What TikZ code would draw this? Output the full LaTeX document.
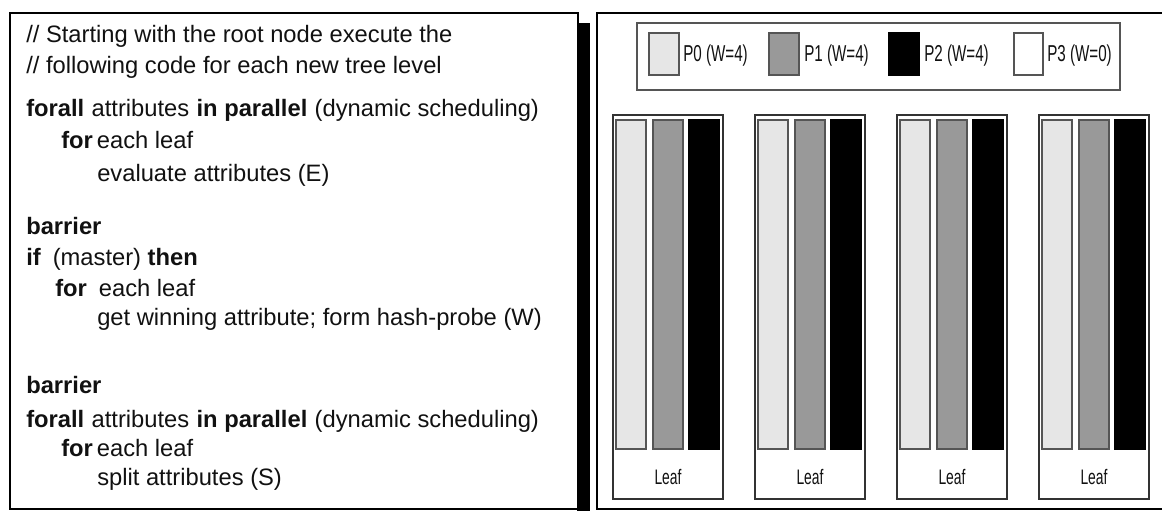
\documentclass[tikz,border=0pt]{standalone}
\usepackage{fontspec}
\setmainfont{Liberation Sans}
\newfontfamily\narrowfont[FakeStretch=0.66]{Liberation Sans}
\definecolor{lightbar}{HTML}{E6E6E6}
\definecolor{midbar}{HTML}{999999}
\definecolor{edgegray}{HTML}{555555}
\definecolor{inkblack}{HTML}{111111}
\newcommand{\wordgap}{\hspace{5.5pt}}
\begin{document}
\begin{tikzpicture}[x=0.75pt,y=-0.75pt,
  frame/.style={draw=black, line width=1.9pt},
  codeline/.style={anchor=base west, inner sep=0pt, text=inkblack, font=\fontsize{17.8}{20}\selectfont},
  leafbox/.style={draw=black!80, line width=0.9pt, fill=white},
  lightcol/.style={draw=edgegray, line width=0.8pt, fill=lightbar},
  midcol/.style={draw=edgegray, line width=0.8pt, fill=midbar},
  darkcol/.style={draw=black, line width=0.8pt, fill=black},
  whitecol/.style={draw=edgegray, line width=0.8pt, fill=white},
  legendbox/.style={draw=edgegray, line width=1pt},
  legendtext/.style={inner sep=0pt, anchor=west, text=inkblack, font=\narrowfont\fontsize{17.25}{20}\selectfont},
  leaftext/.style={inner sep=0pt, text=inkblack, font=\narrowfont\fontsize{15.75}{18}\selectfont}
]
\useasboundingbox (0,0) rectangle (1162,510);
% left frame with shadow
\fill[black] (577,23) rectangle (590,512);
\draw[frame] (10,13) rectangle (578,509);
% right frame
\draw[frame] (597,13) rectangle (1180,509);
% code text
\node[codeline] (c1) at (26,43) {// Starting with the root node execute the};
\node[codeline] (c2) at (26,74) {// following code for each new tree level};
\node[codeline] (c3) at (26,116) {\textbf{forall}\wordgap attributes\wordgap\textbf{in parallel}\wordgap(dynamic scheduling)};
\node[codeline] (c4) at (61,148) {\textbf{for}\hspace{3pt}each leaf};
\node[codeline] (c5) at (97,181) {evaluate attributes (E)};
\node[codeline] (c6) at (26,234) {\textbf{barrier}};
\node[codeline] (c7) at (26,265) {\textbf{if}\hspace{9pt}(master) \textbf{then}};
\node[codeline] (c8) at (55,296) {\textbf{for}\hspace{9pt}each leaf};
\node[codeline] (c9) at (97,325) {get winning attribute; form hash-probe (W)};
\node[codeline] (c10) at (26,393) {\textbf{barrier}};
\node[codeline] (c11) at (26,427) {\textbf{forall}\wordgap attributes\wordgap\textbf{in parallel}\wordgap(dynamic scheduling)};
\node[codeline] (c12) at (61,456) {\textbf{for}\hspace{3pt}each leaf};
\node[codeline] (c13) at (97,485) {split attributes (S)};
% legend
\draw[legendbox] (637,23) rectangle (1120,90);
\draw[lightcol] (649,33) rectangle (679,75);
\node[legendtext] (p0) at (683,55.5) {P0 (W=4)};
\draw[midcol] (769,33) rectangle (799,75);
\node[legendtext] (p1) at (804,55.5) {P1 (W=4)};
\draw[darkcol] (889,33) rectangle (919,75);
\node[legendtext] (p2) at (924,55.5) {P2 (W=4)};
\draw[whitecol] (1014,33) rectangle (1043,75);
\node[legendtext] (p3) at (1047,55.5) {P3 (W=0)};
% leaves
\foreach \i/\x in {1/613,2/755,3/897,4/1039}{
  \draw[leafbox] (\x,115) rectangle ++(110,384);
  \draw[lightcol] (\x+3,120) rectangle ++(30,329);
  \draw[midcol] (\x+40,120) rectangle ++(30,329);
  \draw[darkcol] (\x+76,120) rectangle ++(30,329);
  \node[leaftext] (leaf\i) at (\x+55,477) {Leaf};
}
\end{tikzpicture}
\end{document}
